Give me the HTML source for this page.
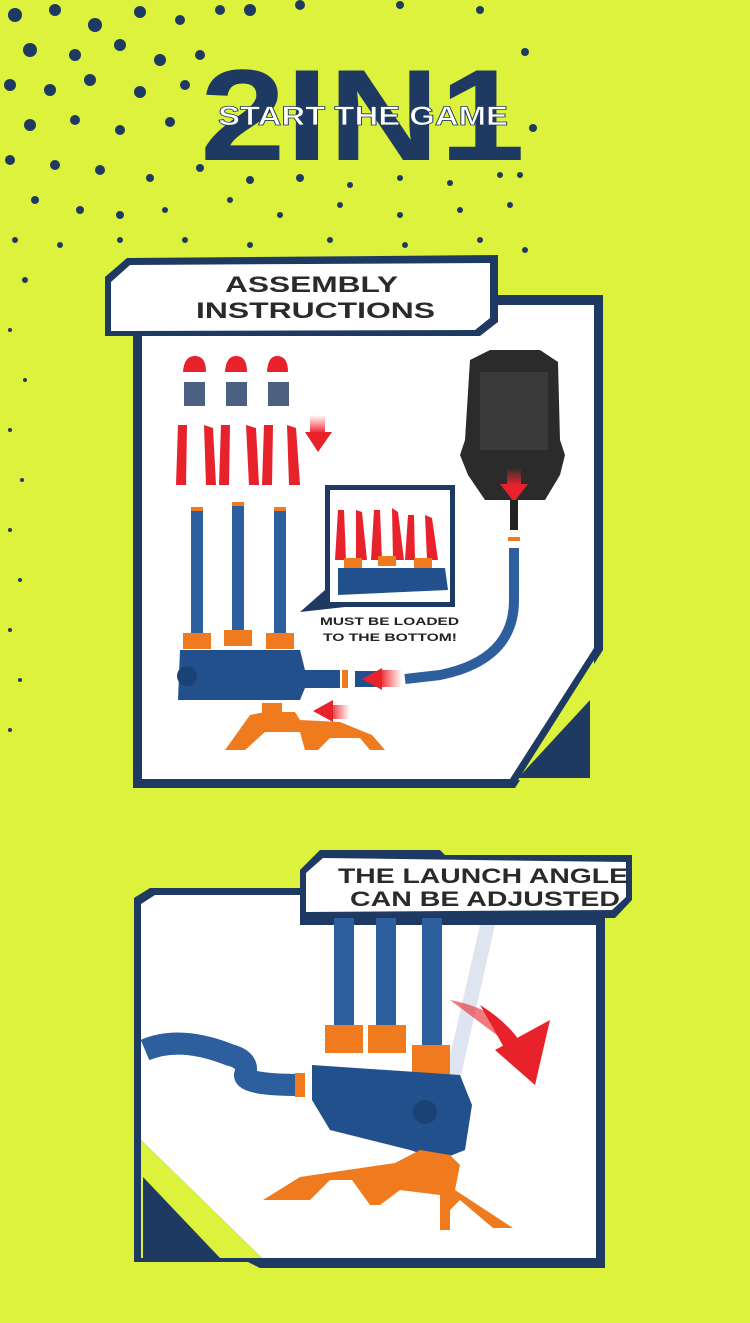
<!DOCTYPE html>
<html><head><meta charset="utf-8"><style>
html,body{margin:0;padding:0;background:#dcf23c;}
svg{display:block}
text{font-family:"Liberation Sans",sans-serif;font-weight:bold}
</style></head><body>
<svg width="750" height="1323" viewBox="0 0 750 1323" xmlns="http://www.w3.org/2000/svg">
<defs>
<linearGradient id="rg" x1="0" y1="0" x2="0" y2="1"><stop offset="0" stop-color="#f33" stop-opacity="0"/><stop offset="1" stop-color="#e8222a"/></linearGradient>
<linearGradient id="rgh" x1="1" y1="0" x2="0" y2="0"><stop offset="0" stop-color="#f33" stop-opacity="0"/><stop offset="1" stop-color="#e8222a"/></linearGradient>
</defs>
<rect width="750" height="1323" fill="#dcf23c"/>
<!-- dots -->
<g fill="#1f3a62">
<circle cx="15" cy="15" r="7"/><circle cx="55" cy="10" r="6"/><circle cx="95" cy="25" r="7"/><circle cx="140" cy="12" r="6"/><circle cx="180" cy="20" r="5"/><circle cx="220" cy="10" r="5"/>
<circle cx="30" cy="50" r="7"/><circle cx="75" cy="55" r="6"/><circle cx="120" cy="45" r="6"/><circle cx="160" cy="60" r="6"/><circle cx="200" cy="55" r="5"/>
<circle cx="10" cy="85" r="6"/><circle cx="50" cy="90" r="6"/><circle cx="90" cy="80" r="6"/><circle cx="140" cy="92" r="6"/><circle cx="185" cy="85" r="5"/>
<circle cx="30" cy="125" r="6"/><circle cx="75" cy="120" r="5"/><circle cx="120" cy="130" r="5"/><circle cx="170" cy="122" r="5"/>
<circle cx="10" cy="160" r="5"/><circle cx="55" cy="165" r="5"/><circle cx="100" cy="170" r="5"/><circle cx="150" cy="178" r="4"/><circle cx="200" cy="168" r="4"/><circle cx="250" cy="180" r="4"/><circle cx="300" cy="178" r="4"/><circle cx="350" cy="185" r="3"/><circle cx="400" cy="178" r="3"/><circle cx="450" cy="183" r="3"/><circle cx="500" cy="175" r="3"/>
<circle cx="35" cy="200" r="4"/><circle cx="80" cy="210" r="4"/><circle cx="120" cy="215" r="4"/><circle cx="165" cy="210" r="3"/><circle cx="230" cy="200" r="3"/><circle cx="280" cy="215" r="3"/><circle cx="340" cy="205" r="3"/><circle cx="400" cy="215" r="3"/><circle cx="460" cy="210" r="3"/><circle cx="510" cy="205" r="3"/>
<circle cx="15" cy="240" r="3"/><circle cx="60" cy="245" r="3"/><circle cx="120" cy="240" r="3"/><circle cx="185" cy="240" r="3"/><circle cx="250" cy="245" r="3"/><circle cx="330" cy="240" r="3"/><circle cx="405" cy="245" r="3"/><circle cx="480" cy="240" r="3"/><circle cx="525" cy="250" r="3"/>
<circle cx="25" cy="280" r="3"/><circle cx="10" cy="330" r="2"/><circle cx="25" cy="380" r="2"/><circle cx="10" cy="430" r="2"/><circle cx="22" cy="480" r="2"/><circle cx="10" cy="530" r="2"/><circle cx="20" cy="580" r="2"/><circle cx="10" cy="630" r="2"/><circle cx="20" cy="680" r="2"/><circle cx="10" cy="730" r="2"/>
<circle cx="250" cy="10" r="6"/><circle cx="300" cy="5" r="5"/><circle cx="400" cy="5" r="4"/><circle cx="480" cy="10" r="4"/><circle cx="525" cy="52" r="4"/><circle cx="533" cy="128" r="4"/><circle cx="520" cy="175" r="3"/>
</g>
<!-- 2IN1 -->
<text x="200" y="160" font-size="130" fill="#1f3a62" textLength="325" lengthAdjust="spacingAndGlyphs">2IN1</text>
<text x="218" y="125" font-size="27" fill="#fff" stroke="#1f3a62" stroke-width="0.8" textLength="290" lengthAdjust="spacingAndGlyphs">START THE GAME</text>

<!-- Panel 1 frame -->
<path d="M133 335 L160 335 L160 295 L603 295 L603 650 L515 788 L133 788 Z" fill="#1f3a62"/>
<path d="M142 305 L594 305 L594 648 L510 779 L142 779 Z" fill="#fff"/>
<path d="M594 660 L594 780 L518 780 Z" fill="#dcf23c"/>
<path d="M590 700 L590 778 L518 778 Z" fill="#1f3a62"/>
<!-- title box 1 -->
<path d="M105 277 L127 258 L498 255 L498 322 L480 336 L105 336 Z" fill="#1f3a62"/>
<path d="M111 282 L130 265 L490 263 L490 318 L475 330 L111 331 Z" fill="#fff"/>
<text x="225" y="292" font-size="22" fill="#2a2a2a" textLength="173" lengthAdjust="spacingAndGlyphs">ASSEMBLY</text>
<text x="196" y="318" font-size="22" fill="#2a2a2a" textLength="239" lengthAdjust="spacingAndGlyphs">INSTRUCTIONS</text>

<!-- rockets tips -->
<g fill="#e8222a">
<path d="M183 372 Q184 356 195 356 Q206 356 206 372 Z"/><path d="M225 372 Q226 356 236 356 Q247 356 247 372 Z"/><path d="M267 372 Q268 356 277 356 Q288 356 288 372 Z"/>
<rect x="184" y="382" width="21" height="24" fill="#1f3a62" opacity=".8"/><rect x="226" y="382" width="21" height="24" fill="#1f3a62" opacity=".8"/><rect x="268" y="382" width="21" height="24" fill="#1f3a62" opacity=".8"/>
<path d="M178 425 L187 425 L186 485 L176 485 Z"/><path d="M204 425 L213 428 L216 485 L206 485 Z"/><path d="M221 425 L230 425 L229 485 L219 485 Z"/>
<path d="M246 425 L256 428 L259 485 L249 485 Z"/><path d="M264 425 L273 425 L272 485 L262 485 Z"/><path d="M287 425 L296 428 L300 485 L289 485 Z"/>
</g>
<rect x="310" y="415" width="15" height="18" fill="url(#rg)"/><path d="M305 432 L332 432 L318 452 Z" fill="#e8222a"/>
<g fill="#2d5e9e">
<rect x="191" y="508" width="12" height="130"/><rect x="232" y="503" width="12" height="135"/><rect x="274" y="508" width="12" height="130"/>
</g>
<g fill="#f07a1e"><rect x="191" y="507" width="12" height="4"/><rect x="232" y="502" width="12" height="4"/><rect x="274" y="507" width="12" height="4"/>
<rect x="183" y="633" width="28" height="16"/><rect x="224" y="630" width="28" height="16"/><rect x="266" y="633" width="28" height="16"/></g>
<path d="M180 650 L300 650 L305 670 L340 670 L340 688 L305 688 L300 700 L178 700 Z" fill="#22508c"/>
<circle cx="187" cy="676" r="10" fill="#1b4275"/>
<rect x="342" y="670" width="6" height="18" fill="#f07a1e"/>
<rect x="355" y="671" width="22" height="16" fill="#22508c"/>
<rect x="380" y="670" width="22" height="17" fill="url(#rgh)"/><path d="M382 668 L382 690 L362 679 Z" fill="#e8222a"/>
<path d="M225 750 L250 715 L265 712 L295 712 L300 720 L340 722 L372 735 L385 750 L370 750 L360 738 L330 738 L318 750 L305 750 L300 732 L265 732 L245 750 Z" fill="#f07a1e"/>
<rect x="262" y="703" width="20" height="10" fill="#f07a1e"/>
<rect x="330" y="705" width="20" height="14" fill="url(#rgh)"/><path d="M333 700 L333 722 L313 711 Z" fill="#e8222a"/>
<!-- inset -->
<path d="M325 485 L455 485 L455 607 L345 607 L300 612 L325 590 Z" fill="#1f3a62"/>
<rect x="330" y="490" width="120" height="112" fill="#fff"/>
<g fill="#e8222a"><path d="M338 510 L344 510 L346 560 L335 560 Z"/><path d="M356 510 L362 512 L367 560 L356 560 Z"/><path d="M374 510 L380 510 L382 560 L371 560 Z"/><path d="M392 508 L398 512 L404 560 L393 560 Z"/><path d="M408 515 L414 515 L415 560 L405 560 Z"/><path d="M425 515 L432 518 L438 560 L427 560 Z"/></g>
<g fill="#f07a1e"><rect x="344" y="558" width="18" height="10"/><rect x="378" y="556" width="18" height="10"/><rect x="414" y="558" width="18" height="10"/></g>
<path d="M338 568 L445 568 L448 590 L338 595 Z" fill="#22508c"/>
<text x="320" y="625" font-size="11" fill="#222" textLength="139" lengthAdjust="spacingAndGlyphs">MUST BE LOADED</text>
<text x="323" y="641" font-size="11" fill="#222" textLength="134" lengthAdjust="spacingAndGlyphs">TO THE BOTTOM!</text>
<!-- pump -->
<path d="M470 360 L490 350 L540 350 L558 362 L560 440 L565 455 L560 475 L545 500 L485 500 L468 475 L460 455 L465 440 Z" fill="#2b2b2b"/>
<path d="M480 372 L548 372 L548 450 L480 450 Z" fill="#3a3a3a"/>
<rect x="507" y="468" width="14" height="18" fill="url(#rg)"/><path d="M500 484 L528 484 L514 502 Z" fill="#e8222a"/>
<rect x="510" y="500" width="8" height="30" fill="#222"/>
<rect x="508" y="537" width="12" height="4" fill="#f07a1e"/>
<path d="M514 548 L514 600 Q514 660 440 675 L405 679" stroke="#2d5e9e" stroke-width="10" fill="none"/>

<!-- Panel 2 frame -->
<path d="M134 898 L150 888 L300 888 L300 918 L605 918 L605 1268 L260 1268 L248 1262 L134 1262 Z" fill="#1f3a62"/>
<path d="M141 904 L155 895 L300 895 L300 925 L596 925 L596 1258 L262 1258 L141 1140 Z" fill="#fff"/>
<path d="M141 1140 L262 1258 L141 1258 Z" fill="#dcf23c"/>
<path d="M143 1177 L143 1258 L220 1258 Z" fill="#1f3a62"/>
<!-- title box 2 -->
<path d="M300 870 L320 850 L440 850 L445 855 L632 855 L632 900 L615 918 L300 918 Z" fill="#1f3a62"/>
<path d="M306 873 L323 858 L626 862 L626 897 L612 910 L306 912 Z" fill="#fff"/>
<text x="338" y="883" font-size="21" fill="#2a2a2a" textLength="290" lengthAdjust="spacingAndGlyphs">THE LAUNCH ANGLE</text>
<text x="350" y="906" font-size="21" fill="#2a2a2a" textLength="270" lengthAdjust="spacingAndGlyphs">CAN BE ADJUSTED</text>
<path d="M480 925 L495 925 L460 1080 L445 1078 Z" fill="#c8d4e6" opacity=".6"/>
<g fill="#2d5e9e"><rect x="334" y="918" width="20" height="115"/><rect x="376" y="918" width="20" height="115"/><rect x="422" y="918" width="20" height="130"/></g>
<g fill="#f07a1e"><rect x="325" y="1025" width="38" height="28"/><rect x="368" y="1025" width="38" height="28"/><rect x="412" y="1045" width="38" height="30"/></g>
<path d="M312 1065 L460 1075 L472 1105 L465 1150 L440 1160 L410 1150 L330 1130 L312 1100 Z" fill="#22508c"/>
<circle cx="425" cy="1112" r="12" fill="#1b4275"/>
<path d="M145 1050 Q180 1035 230 1055 Q250 1060 245 1075 Q245 1085 300 1085" stroke="#2d5e9e" stroke-width="22" fill="none"/>
<rect x="295" y="1073" width="10" height="24" fill="#f07a1e"/>
<path d="M450 1000 Q505 1010 520 1050 L510 1045 Z" fill="#e8222a" opacity=".6"/>
<path d="M480 1005 Q520 1030 528 1060 L512 1062 Q500 1040 480 1005 Z" fill="#e8222a"/>
<path d="M495 1050 L550 1020 L535 1085 Z" fill="#e8222a"/>
<path d="M263 1200 L300 1177 L395 1163 L420 1150 L450 1155 L460 1165 L455 1190 L513 1228 L493 1228 L460 1200 L450 1210 L450 1230 L440 1230 L440 1195 L400 1190 L380 1205 L370 1205 L352 1180 L330 1180 L310 1200 Z" fill="#f07a1e"/>
</svg>
</body></html>
